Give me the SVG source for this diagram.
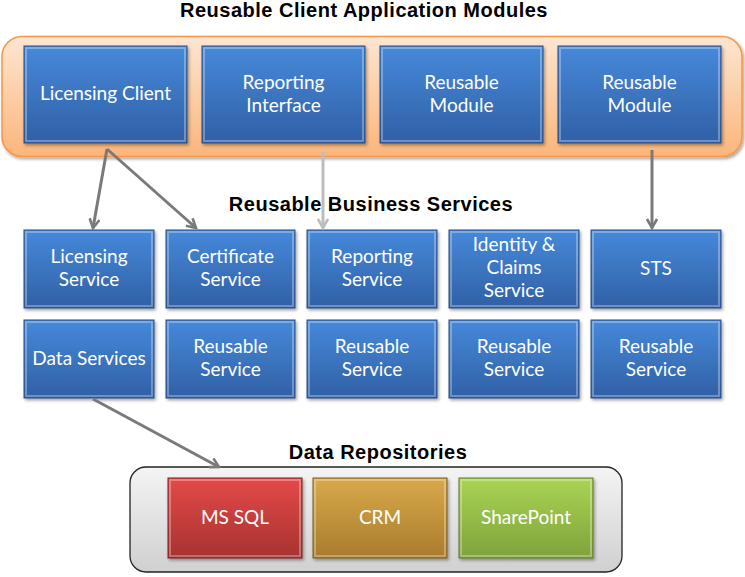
<svg xmlns="http://www.w3.org/2000/svg" width="745" height="577" viewBox="0 0 745 577">
<defs>
<linearGradient id="gBlue" x1="0" y1="0" x2="0" y2="1">
<stop offset="0" stop-color="#4689da"/><stop offset="1" stop-color="#3060a5"/></linearGradient>
<linearGradient id="gRed" x1="0" y1="0" x2="0" y2="1">
<stop offset="0" stop-color="#e44a47"/><stop offset="1" stop-color="#a73230"/></linearGradient>
<linearGradient id="gGold" x1="0" y1="0" x2="0" y2="1">
<stop offset="0" stop-color="#d9a94a"/><stop offset="1" stop-color="#a87c2d"/></linearGradient>
<linearGradient id="gGreen" x1="0" y1="0" x2="0" y2="1">
<stop offset="0" stop-color="#a9d455"/><stop offset="1" stop-color="#7fa33a"/></linearGradient>
<linearGradient id="gOrange" x1="0" y1="0" x2="0" y2="1">
<stop offset="0" stop-color="#fde6d2"/><stop offset="1" stop-color="#fbb57a"/></linearGradient>
<linearGradient id="gGray" x1="0" y1="0" x2="0" y2="1">
<stop offset="0" stop-color="#f4f4f4"/><stop offset="1" stop-color="#d0d0d0"/></linearGradient>
<marker id="arrD" viewBox="0 0 12 12" refX="10" refY="6" markerWidth="12" markerHeight="12" markerUnits="userSpaceOnUse" orient="auto">
<polyline points="1,1 10,6 1,11" fill="none" stroke="#7a7a7a" stroke-width="2.6"/></marker>
<marker id="arrL" viewBox="0 0 12 12" refX="10" refY="6" markerWidth="12" markerHeight="12" markerUnits="userSpaceOnUse" orient="auto">
<polyline points="1,1 10,6 1,11" fill="none" stroke="#bdbdbd" stroke-width="2.6"/></marker>
<filter id="sh" x="-10%" y="-10%" width="125%" height="130%">
<feDropShadow dx="1.5" dy="2" stdDeviation="1.5" flood-color="#000" flood-opacity="0.35"/></filter>
</defs>
<style>
.title{font-family:"Liberation Sans",Arial,sans-serif;font-weight:bold;font-size:20px;letter-spacing:0.5px;fill:#000;text-anchor:middle}
.lbl{font-family:Lato,"Open Sans","Liberation Sans",sans-serif;font-size:19px;fill:#fff;text-anchor:middle}
.blue{fill:url(#gBlue);stroke:#2a4f86;stroke-width:1;filter:url(#sh)}
.red{fill:url(#gRed);stroke:#7d2422;stroke-width:1;filter:url(#sh)}
.gold{fill:url(#gGold);stroke:#7d5c22;stroke-width:1;filter:url(#sh)}
.green{fill:url(#gGreen);stroke:#5e7a2a;stroke-width:1;filter:url(#sh)}
.bev{fill:none;stroke:#ffffff;stroke-opacity:0.3;stroke-width:2}
.con{fill:none;stroke:#7a7a7a;stroke-width:3}
</style>

<text class="title" x="364" y="17">Reusable Client Application Modules</text>
<rect x="2" y="36.5" width="740" height="120" rx="20" fill="url(#gOrange)" stroke="#f79646" stroke-width="1.5" filter="url(#sh)"/>

<g id="licensing-client"><rect class="blue" x="24" y="46" width="163" height="97"/><rect class="bev" x="26" y="48" width="159" height="93"/><text class="lbl" x="105.5" y="100">Licensing Client</text></g>
<g id="reporting-interface"><rect class="blue" x="202" y="46" width="163" height="97"/><rect class="bev" x="204" y="48" width="159" height="93"/><text class="lbl" x="283.5" y="89">Reporting</text><text class="lbl" x="283.5" y="112">Interface</text></g>
<g id="reusable-module-1"><rect class="blue" x="380" y="46" width="163" height="97"/><rect class="bev" x="382" y="48" width="159" height="93"/><text class="lbl" x="461.5" y="89">Reusable</text><text class="lbl" x="461.5" y="112">Module</text></g>
<g id="reusable-module-2"><rect class="blue" x="558" y="46" width="163" height="97"/><rect class="bev" x="560" y="48" width="159" height="93"/><text class="lbl" x="639.5" y="89">Reusable</text><text class="lbl" x="639.5" y="112">Module</text></g>

<text class="title" x="371" y="211">Reusable Business Services</text>

<g id="licensing-service"><rect class="blue" x="24" y="230" width="130" height="78"/><rect class="bev" x="26" y="232" width="126" height="74"/><text class="lbl" x="89" y="263">Licensing</text><text class="lbl" x="89" y="286">Service</text></g>
<g id="certificate-service"><rect class="blue" x="166" y="230" width="129" height="78"/><rect class="bev" x="168" y="232" width="125" height="74"/><text class="lbl" x="230.5" y="263">Certificate</text><text class="lbl" x="230.5" y="286">Service</text></g>
<g id="reporting-service"><rect class="blue" x="307" y="230" width="130" height="78"/><rect class="bev" x="309" y="232" width="126" height="74"/><text class="lbl" x="372" y="263">Reporting</text><text class="lbl" x="372" y="286">Service</text></g>
<g id="identity-service"><rect class="blue" x="449" y="230" width="130" height="78"/><rect class="bev" x="451" y="232" width="126" height="74"/><text class="lbl" x="514" y="251">Identity &amp;</text><text class="lbl" x="514" y="274">Claims</text><text class="lbl" x="514" y="297">Service</text></g>
<g id="sts"><rect class="blue" x="591" y="230" width="130" height="78"/><rect class="bev" x="593" y="232" width="126" height="74"/><text class="lbl" x="656" y="275">STS</text></g>

<g id="data-services"><rect class="blue" x="24" y="320" width="130" height="78"/><rect class="bev" x="26" y="322" width="126" height="74"/><text class="lbl" x="89" y="365">Data Services</text></g>
<g id="reusable-service-1"><rect class="blue" x="166" y="320" width="129" height="78"/><rect class="bev" x="168" y="322" width="125" height="74"/><text class="lbl" x="230.5" y="353">Reusable</text><text class="lbl" x="230.5" y="376">Service</text></g>
<g id="reusable-service-2"><rect class="blue" x="307" y="320" width="130" height="78"/><rect class="bev" x="309" y="322" width="126" height="74"/><text class="lbl" x="372" y="353">Reusable</text><text class="lbl" x="372" y="376">Service</text></g>
<g id="reusable-service-3"><rect class="blue" x="449" y="320" width="130" height="78"/><rect class="bev" x="451" y="322" width="126" height="74"/><text class="lbl" x="514" y="353">Reusable</text><text class="lbl" x="514" y="376">Service</text></g>
<g id="reusable-service-4"><rect class="blue" x="591" y="320" width="130" height="78"/><rect class="bev" x="593" y="322" width="126" height="74"/><text class="lbl" x="656" y="353">Reusable</text><text class="lbl" x="656" y="376">Service</text></g>

<text class="title" x="378" y="459">Data Repositories</text>
<rect x="130" y="467" width="492" height="105" rx="16" fill="url(#gGray)" stroke="#222" stroke-width="1.3"/>

<g id="ms-sql"><rect class="red" x="168" y="478" width="134" height="80"/><rect class="bev" x="170" y="480" width="130" height="76"/><text class="lbl" x="235" y="524">MS SQL</text></g>
<g id="crm"><rect class="gold" x="313" y="478" width="134" height="80"/><rect class="bev" x="315" y="480" width="130" height="76"/><text class="lbl" x="380" y="524">CRM</text></g>
<g id="sharepoint"><rect class="green" x="459" y="478" width="134" height="80"/><rect class="bev" x="461" y="480" width="130" height="76"/><text class="lbl" x="526" y="524">SharePoint</text></g>

<g id="connectors">
<line class="con" x1="107" y1="149" x2="93" y2="228" marker-end="url(#arrD)"/>
<line class="con" x1="107" y1="149" x2="196" y2="228" marker-end="url(#arrD)"/>
<line class="con" x1="323" y1="152" x2="323" y2="228" style="stroke:#bdbdbd" marker-end="url(#arrL)"/>
<line class="con" x1="652" y1="150" x2="652" y2="228" marker-end="url(#arrD)"/>
<line class="con" x1="93" y1="399" x2="219" y2="467" marker-end="url(#arrD)"/>
</g>
</svg>
